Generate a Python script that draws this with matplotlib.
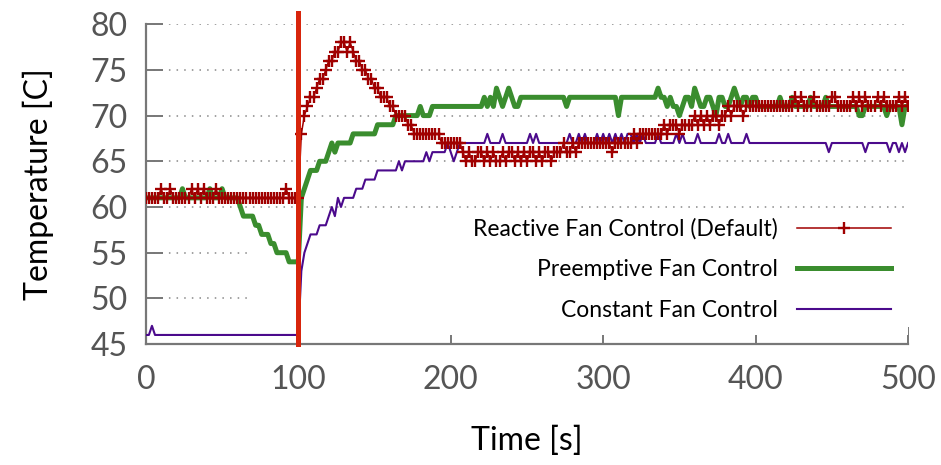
import numpy as np
import matplotlib.pyplot as plt
from matplotlib.patches import Rectangle

# sampled every 2 s, 0..500
reactive = [61,61,61,61,61,62,61,61,62,61,
            61,61,61,61,61,62,61,62,61,62,
            61,61,61,62,61,61,61,61,61,61,
            61,61,61,61,61,61,61,61,61,61,
            61,61,61,61,61,61,62,61,61,61,
            61,68,70,71,72,72,73,74,74,75,
            76,76,77,77,78,78,77,78,77,76,
            76,75,75,74,74,73,73,72,72,72,
            71,71,70,70,70,70,69,69,68,68,
            68,68,68,68,68,68,68,67,67,67,
            67,67,67,67,66,65,66,65,65,66,
            66,65,66,65,66,65,65,66,65,66,
            66,65,66,65,66,65,66,66,65,66,
            65,66,66,65,66,66,66,67,66,66,
            67,66,67,67,67,67,67,67,67,67,
            67,67,67,66,67,67,67,67,67,67,
            68,67,68,68,68,68,68,68,68,68,
            69,68,69,69,69,68,69,69,69,69,
            70,69,70,69,70,69,70,70,69,70,
            70,71,70,71,71,71,70,71,71,71,
            71,71,71,71,71,71,71,71,71,71,
            71,71,71,72,71,72,71,71,71,72,
            71,71,71,71,71,72,72,71,71,71,
            71,71,72,71,72,71,72,71,71,71,
            72,71,72,71,71,71,71,72,71,72,
            71]

preemptive = [61,61,61,61,61,61,61,61,61,61,
              61,61,62,61,61,61,61,61,61,61,
              61,62,61,61,61,62,61,61,61,61,
              61,60,59,59,59,59,58,58,57,57,
              57,56,56,55,55,55,55,54,54,54,
              54,61,62,63,64,64,64,65,65,65,
              66,67,66,67,67,67,67,67,68,68,
              68,68,68,68,68,68,69,69,69,69,
              69,69,70,70,70,70,70,70,70,70,
              71,70,70,70,71,71,71,71,71,71,
              71,71,71,71,71,71,71,71,71,71,
              71,72,71,72,71,73,72,71,72,73,
              72,71,71,72,72,72,72,72,72,72,
              72,72,72,72,72,72,72,72,71,72,
              72,72,72,72,72,72,72,72,72,72,
              72,72,72,72,72,70,72,72,72,72,
              72,72,72,72,72,72,72,72,73,72,
              72,71,72,71,71,70,71,72,72,71,
              73,72,71,71,72,72,71,70,72,72,
              71,71,72,73,72,71,72,72,71,72,
              72,71,71,71,71,71,71,71,72,71,
              71,71,72,71,71,71,71,71,72,71,
              71,71,71,72,71,71,71,71,71,71,
              71,71,71,71,70,70,71,71,71,71,
              71,71,71,70,71,71,71,71,69,71,
              71]

constant = [46,46,47,46,46,46,46,46,46,46,
            46,46,46,46,46,46,46,46,46,46,
            46,46,46,46,46,46,46,46,46,46,
            46,46,46,46,46,46,46,46,46,46,
            46,46,46,46,46,46,46,46,46,46,
            46,53,55,56,57,57,57,58,58,58,
            59,60,59,61,60,61,61,61,61,62,
            62,62,63,63,63,63,64,64,64,64,
            64,64,64,65,64,65,65,65,65,65,
            65,65,66,65,66,66,66,66,66,67,
            66,65,66,67,67,67,67,67,67,67,
            67,67,68,67,67,67,67,68,67,67,
            67,67,67,67,67,67,68,67,68,67,
            67,67,67,67,67,67,67,67,67,68,
            67,67,68,67,68,67,67,67,68,67,
            68,67,68,67,68,67,68,67,68,68,
            67,68,67,68,67,67,67,67,68,67,
            67,67,67,67,68,67,68,67,67,67,
            67,68,67,67,67,67,67,67,68,67,
            67,68,67,67,67,67,67,68,67,67,
            67,67,67,67,67,67,67,67,67,67,
            67,67,67,67,67,67,67,67,67,67,
            67,67,67,67,66,67,67,67,67,67,
            67,67,67,67,67,67,66,67,67,67,
            67,67,67,67,66,67,67,66,67,66,
            67]

time = np.arange(len(reactive)) * 2
event_time = 100

plt.rcParams['font.family'] = ['Lato', 'DejaVu Sans']

fig = plt.figure(figsize=(9.41, 4.65), dpi=100)
ax = fig.add_axes([0.155, 0.26, 0.81, 0.688])

ax.plot(time, reactive, color='#a00000', lw=1.1, marker='+', ms=8, mew=1.7,
        label='Reactive Fan Control (Default)', zorder=3)
ax.plot(time, preemptive, color='#3a8d2e', lw=3.6,
        label='Preemptive Fan Control', zorder=2.5)
ax.plot(time, constant, color='#4b0a8c', lw=1.5,
        label='Constant Fan Control', zorder=2.6)
ax.axvline(event_time, ymin=0, ymax=1.035, color='#d8250c', lw=3.6,
           clip_on=False, zorder=4)

ax.set_xlim(0, 500)
ax.set_ylim(45, 80)
ax.set_xticks(range(0, 501, 100))
ax.set_yticks(range(45, 81, 5))

ax.set_axisbelow(True)
ax.yaxis.grid(True, color='#888888', linestyle=(0, (1, 4)), lw=1.1)
ax.add_patch(Rectangle((0.136, 0.03), 0.87, 0.37, transform=ax.transAxes,
                       facecolor='white', edgecolor='none', zorder=1))

for side in ['top', 'right']:
    ax.spines[side].set_visible(False)
for side in ['left', 'bottom']:
    ax.spines[side].set_color('#777777')
    ax.spines[side].set_linewidth(1.6)

ax.tick_params(direction='in', length=12, width=1.4, color='#777777',
               labelcolor='#555555', labelsize=23)
ax.tick_params(axis='y', pad=13)
ax.tick_params(axis='x', pad=15)

ax.set_xlabel('Time [s]', fontsize=23, labelpad=22)
ax.set_ylabel('Temperature [C]', fontsize=23, labelpad=26)

ax.legend(loc='upper right', bbox_to_anchor=(0.977, 0.393), frameon=False,
          markerfirst=False, fontsize=16.5, handlelength=4.1, handletextpad=0.8,
          labelspacing=0.85, borderpad=0, borderaxespad=0)

fig.savefig('out.png')
plt.close(fig)
